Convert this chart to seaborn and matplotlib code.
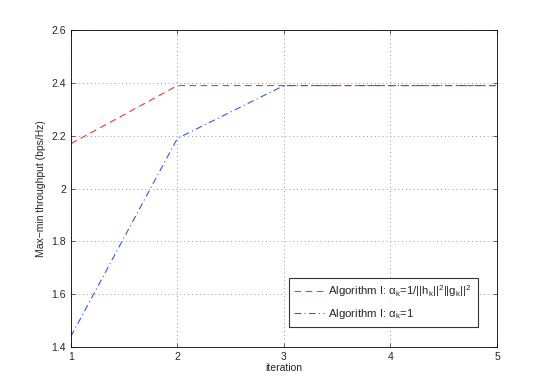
import pandas as pd
import matplotlib
matplotlib.use("Agg")
import matplotlib.pyplot as plt
import seaborn as sns

# data
iterations = [1, 2, 3, 4, 5]
alg_norm = [2.17, 2.39, 2.39, 2.39, 2.39]
alg_one = [1.44, 2.19, 2.39, 2.39, 2.39]
labels = [r'Algorithm I: $\alpha_k$=1/||h$_k$||$^2$||g$_k$||$^2$',
          r'Algorithm I: $\alpha_k$=1']

sns.set_style("white")
plt.rcParams['font.family'] = ['Liberation Sans', 'DejaVu Sans']
plt.rcParams['mathtext.fontset'] = 'custom'
plt.rcParams['mathtext.rm'] = 'Liberation Sans'
plt.rcParams['mathtext.it'] = 'Liberation Sans'
plt.rcParams['mathtext.bf'] = 'Liberation Sans:bold'

df = pd.DataFrame({
    'iteration': iterations * 2,
    'value': alg_norm + alg_one,
    'series': [labels[0]] * 5 + [labels[1]] * 5,
})

fig = plt.figure(figsize=(5.45, 3.91), dpi=100)
ax = fig.add_axes([0.130, 0.1125, 0.782, 0.8105])

sns.lineplot(data=df, x='iteration', y='value', hue='series', style='series',
             palette=['#ff3333', '#3355ff'],
             dashes=[(6, 4), (6, 3, 1, 3)], linewidth=0.8, ax=ax)

ax.set_xlim(1, 5)
ax.set_ylim(1.4, 2.6)
ax.set_xticks([1, 2, 3, 4, 5])
ax.set_yticks([1.4, 1.6, 1.8, 2.0, 2.2, 2.4, 2.6])
ax.set_yticklabels(['1.4', '1.6', '1.8', '2', '2.2', '2.4', '2.6'])
ax.grid(True, linestyle=(0, (1, 3)), color='#999999', linewidth=0.7)
ax.tick_params(direction='in', length=3, labelsize=7.5, top=True, right=True,
               bottom=True, left=True, width=0.5)
for s in ax.spines.values():
    s.set_color('black')
    s.set_linewidth(0.6)
ax.set_xlabel('iteration', fontsize=7.5, labelpad=1)
ax.set_ylabel('Max\u2212min throughput (bps/Hz)', fontsize=7.5, labelpad=4)

leg = ax.legend(loc='lower right', bbox_to_anchor=(0.955, 0.063), fontsize=8.2,
                frameon=True, fancybox=False, edgecolor='black', borderaxespad=0,
                handlelength=2.6, handletextpad=0.4, borderpad=0.5, labelspacing=0.7)
leg.get_frame().set_linewidth(0.8)

fig.savefig('out.png', dpi=100)
